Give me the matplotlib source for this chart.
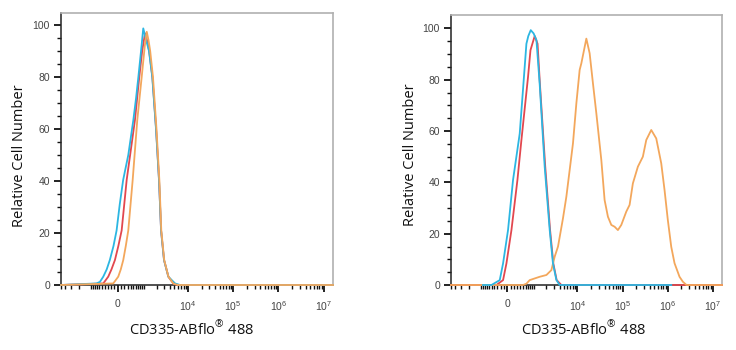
import numpy as np
import matplotlib
matplotlib.use("Agg")
import matplotlib.pyplot as plt

plt.rcParams['font.family'] = ['Liberation Sans', 'DejaVu Sans']
plt.rcParams['mathtext.fontset'] = 'custom'
plt.rcParams['mathtext.rm'] = 'Open Sans'

# histogram traces: fluorescence intensity vs relative cell number
# left panel
cyan_l_x = [-5000, -730, -580, -450, -330, -230, -120, -30, 60, 160, 320, 500, 610, 710, 840, 960, 1100, 1330, 1590, 1940, 2280, 2530, 2950, 3690, 5200, 6700, 1.6e7]
cyan_l_y = [0, 0.6, 1.2, 3.2, 6, 9.6, 15, 21, 31, 40.4, 50, 63.5, 72, 80, 90, 98.7, 95, 90, 80, 60, 40, 21, 9.6, 3.2, 0.6, 0, 0]
red_l_x = [-5000, -450, -280, -180, -78, 20, 116, 268, 420, 563, 753, 900, 1064, 1200, 1340, 1600, 1950, 2280, 2530, 2950, 3690, 4800, 6000, 1.6e7]
red_l_y = [0, 0.6, 3.2, 6, 9.6, 15, 21, 40.4, 53, 63.5, 80, 90, 96.8, 94, 90, 80, 60, 40, 21, 9.6, 3.2, 0.5, 0, 0]
orange_l_x = [-5000, -127, 17, 90, 163, 240, 320, 474, 661, 874, 1050, 1174, 1300, 1420, 1650, 1990, 2320, 2560, 2980, 3700, 4800, 6000, 1.6e7]
orange_l_y = [0, 0.6, 3.2, 6, 9.6, 15, 21, 40.4, 63.5, 80, 92, 97.4, 94, 90, 80, 60, 40, 21, 9.6, 3.2, 0.5, 0, 0]

# right panel
cyan_r_x = [-900, -512, -227, -127, 17, 163, 377, 563, 635, 720, 840, 1000, 1174, 1403, 1845, 2403, 2848, 3395, 4027, 1.2e6]
cyan_r_y = [0, 0, 1.9, 8.4, 21.4, 40.9, 59, 85, 94, 97, 99.3, 98, 95.4, 78.6, 46, 21.4, 8.4, 2, 0, 0]
red_r_x = [-5000, -333, -127, -29, 116, 300, 437, 707, 826, 962, 1064, 1250, 1420, 1900, 2450, 2900, 3450, 4400, 1.6e7]
red_r_y = [0, 0, 1.9, 8.4, 21.4, 40.9, 56.5, 81, 91.5, 94.8, 97, 94, 78.6, 46, 21.4, 8.4, 1.9, 0, 0]
orange_r_x = [-5000, 496, 635, 786, 1403, 2020, 2623, 3108, 3700, 4777, 5679, 6729, 7969, 9475, 11212,
              12233, 15775, 18657, 22086, 26265, 33863, 40044, 47432, 56389, 66721, 78904, 93793,
              121034, 143200, 169369, 218550, 281887, 335298, 432306, 557796, 719664, 851640,
              1007304, 1197936, 1416768, 1827924, 2162376, 2600000, 1.6e7]
orange_r_y = [0, 0, 0.5, 1.9, 3.2, 3.9, 5.8, 11, 15, 26, 34.4, 44.8, 55.2, 70.8, 83.8,
              86.4, 96, 90.3, 78.6, 66.9, 48.7, 33.1, 26.6, 23.4, 22.7, 21.4, 23.4,
              28.6, 31.2, 39.6, 46.1, 50, 56.5, 60.4, 57.1, 47.4, 37,
              25.3, 14.9, 8.5, 3.2, 1.3, 0, 0]

x_major = [0, 1e4, 1e5, 1e6, 1e7]
x_major_labels = ['0', r'$\mathdefault{10^{4}}$', r'$\mathdefault{10^{5}}$', r'$\mathdefault{10^{6}}$', r'$\mathdefault{10^{7}}$']
y_major = [0, 20, 40, 60, 80, 100]

CYAN = '#2cb6e2'
RED = '#e2474f'
ORANGE = '#f3a75c'

C = 564.0


def fwd(x):
    return np.arcsinh(np.asarray(x, dtype=float) / C) / np.log(10)


def inv(t):
    return C * np.sinh(np.asarray(t, dtype=float) * np.log(10))


x_minor = []
for k in range(2, 4):
    for m in range(1, 10):
        v = m * 10 ** k
        if v <= 5000:
            x_minor.append(-v)
        x_minor.append(v)
for k in range(4, 7):
    for m in range(2, 10):
        x_minor.append(m * 10 ** k)
x_minor = sorted(x_minor)

fig = plt.figure(figsize=(7.36, 3.5), dpi=100)
ax1 = fig.add_axes([61 / 736, 65 / 350, 272.3 / 736, 271.7 / 350])
ax2 = fig.add_axes([451 / 736, 65 / 350, 271.3 / 736, 270 / 350])


def style(ax, ytop):
    ax.set_xscale('function', functions=(fwd, inv))
    ax.set_xlim(-5000, 1.62e7)
    ax.set_ylim(0, ytop)
    ax.set_xticks(x_major)
    ax.set_xticklabels(x_major_labels)
    ax.set_xticks(x_minor, minor=True)
    ax.set_yticks(y_major)
    ax.set_yticks(np.arange(0, 101, 5), minor=True)
    ax.tick_params(axis='both', which='major', direction='out', length=5, width=1.3,
                   labelsize=7.5, labelcolor='#444444', color='#111111')
    ax.tick_params(axis='both', which='minor', direction='out', length=2.6, width=1.0,
                   color='#111111')
    ax.tick_params(axis='x', which='major', pad=5)
    ax.tick_params(axis='y', which='major', pad=3)
    for s in ['left', 'bottom']:
        ax.spines[s].set_color('#222222')
        ax.spines[s].set_linewidth(1.1)
    for s in ['top', 'right']:
        ax.spines[s].set_color('#b0b0b0')
        ax.spines[s].set_linewidth(1.2)
    ax.set_ylabel('Relative Cell Number', family='Open Sans', fontsize=10.5, color='#111111')
    ax.set_xlabel(r'CD335-ABflo$^{\circledR}$ 488', family='Open Sans', fontsize=10.5, color='#111111')
    ax.yaxis.label.set_verticalalignment('center')
    ax.xaxis.label.set_verticalalignment('center')


style(ax1, 104.5)
style(ax2, 105.2)

lw = 1.3
ax1.plot(red_l_x, red_l_y, color=RED, lw=lw, zorder=3, clip_on=False)
ax1.plot(cyan_l_x, cyan_l_y, color=CYAN, lw=lw, zorder=3, clip_on=False)
ax1.plot(orange_l_x, orange_l_y, color=ORANGE, lw=lw, zorder=3, clip_on=False)

ax2.plot(red_r_x, red_r_y, color=RED, lw=lw, zorder=3, clip_on=False)
ax2.plot(orange_r_x, orange_r_y, color=ORANGE, lw=lw, zorder=3, clip_on=False)
ax2.plot(cyan_r_x, cyan_r_y, color=CYAN, lw=lw, zorder=3, clip_on=False)

ax1.yaxis.set_label_coords(-0.154, 0.477)
ax1.xaxis.set_label_coords(0.48, -0.166)
ax2.yaxis.set_label_coords(-0.151, 0.481)
ax2.xaxis.set_label_coords(0.487, -0.167)

fig.savefig('out.png', dpi=100)
